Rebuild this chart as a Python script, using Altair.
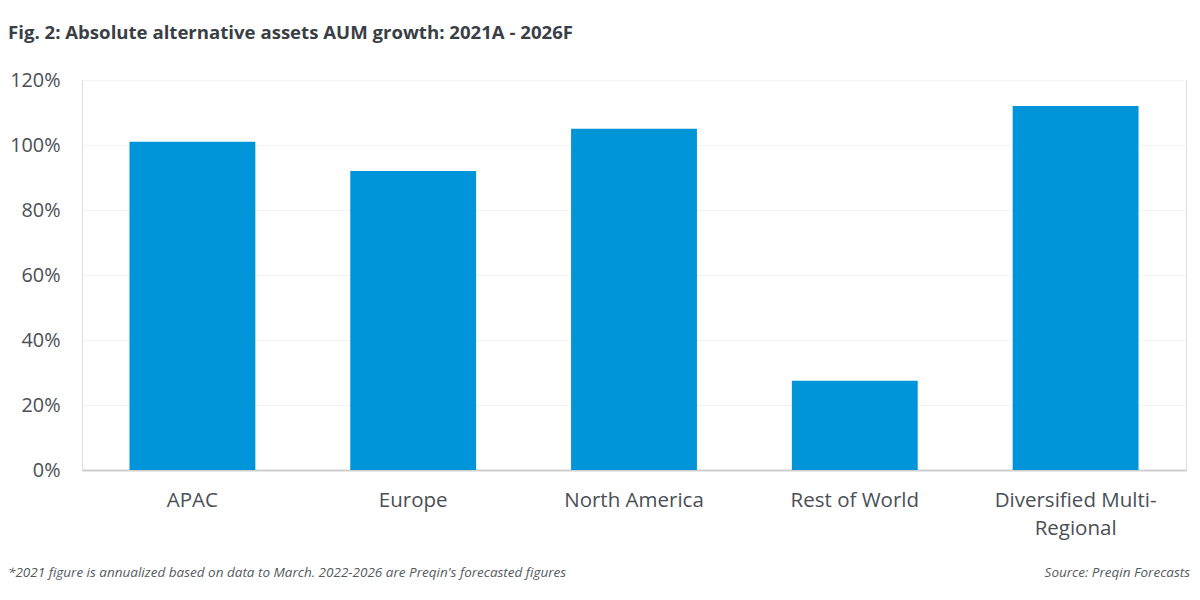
import altair as alt
import pandas as pd

regions = ["APAC", "Europe", "North America", "Rest of World", "Diversified Multi-Regional"]
growth = [1.01, 0.92, 1.05, 0.275, 1.12]
y_ticks = [0, 0.2, 0.4, 0.6, 0.8, 1.0, 1.2]

title_text = "Fig. 2: Absolute alternative assets AUM growth: 2021A - 2026F"
note_text = "*2021 figure is annualized based on data to March. 2022-2026 are Preqin's forecasted figures"
source_text = "Source: Preqin Forecasts"

df = pd.DataFrame({"region": regions, "growth": growth})

FONT = "Open Sans"

bars = alt.Chart(df).mark_bar(color="#0094d8").encode(
    x=alt.X("region:N", sort=regions, title=None,
            scale=alt.Scale(paddingInner=0.43, paddingOuter=0.215),
            axis=alt.Axis(labelAngle=0, ticks=False, domain=True, domainColor="#cfcfcf",
                          domainWidth=2, labelFontSize=20.5, labelColor="#4a4f55",
                          labelFont=FONT, labelPadding=20, labelLineHeight=28,
                          labelExpr="datum.label == 'Diversified Multi-Regional' ? ['Diversified Multi-', 'Regional'] : datum.label")),
    y=alt.Y("growth:Q", title=None,
            scale=alt.Scale(domain=[0, 1.2], nice=False),
            axis=alt.Axis(values=y_ticks, format=".0%", domain=False, ticks=False,
                          gridColor="#f2f2f2", gridWidth=1, labelFontSize=19.8,
                          labelColor="#4a4f55", labelFont=FONT, labelPadding=22)),
)

title = alt.Chart(pd.DataFrame({"t": [title_text]})).mark_text(
    align="left", baseline="middle", font=FONT, fontSize=18.6, fontWeight="bold", color="#3a3f45"
).encode(x=alt.value(-74), y=alt.value(-47), text="t:N")

note = alt.Chart(pd.DataFrame({"t": [note_text]})).mark_text(
    align="left", baseline="middle", font=FONT, fontSize=13.5, fontStyle="italic", color="#555a60"
).encode(x=alt.value(-74), y=alt.value(493), text="t:N")

source = alt.Chart(pd.DataFrame({"t": [source_text]})).mark_text(
    align="right", baseline="middle", font=FONT, fontSize=13.5, fontStyle="italic", color="#555a60"
).encode(x=alt.value(1108), y=alt.value(493), text="t:N")

chart = alt.layer(bars, title, note, source).properties(
    width=1104, height=390,
    autosize=alt.AutoSizeParams(type="none"),
    padding={"left": 74, "top": 72, "right": 6, "bottom": 110},
).configure_view(stroke=None).configure(background="white")

chart.save("out.html", embed_options={"renderer": "svg", "actions": False})
